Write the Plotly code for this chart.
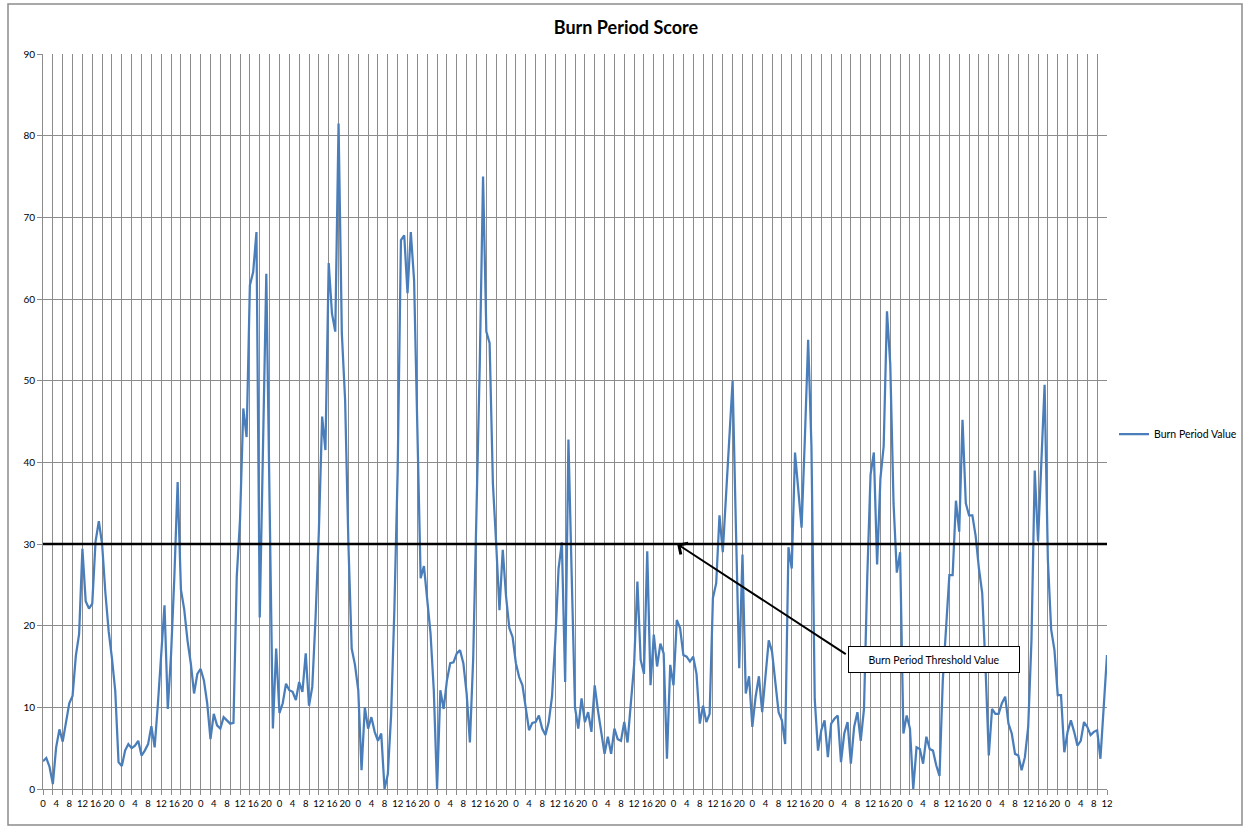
import plotly.graph_objects as go

# ---- data ----
vals_a = [3.4, 3.8, 2.7, 0.6, 5.1, 7.3, 5.8, 8.4, 10.5, 11.4, 16.3, 19.0, 29.4]
vals_b = [23.0, 22.1, 22.7, 30.3, 32.8, 30.0, 24.0, 19.3, 16.0, 12.0, 3.3, 2.8]
vals_c = [4.7, 5.5, 5.0, 5.3, 5.9, 4.1, 4.7, 5.5, 7.7, 5.1, 10.5, 16.5, 22.5, 9.8, 16.5, 26.0]
vals_d = [37.6, 24.4, 22.0, 18.2, 15.4, 11.7, 14.1, 14.7, 13.3, 10.5, 6.1, 9.2, 7.8, 7.4, 8.8, 8.4, 8.0, 8.1]
vals_e = [26.0, 33.0, 46.6, 43.1, 61.7, 63.3, 68.2, 21.0, 42.0, 63.1, 35.0, 7.4]
vals_f = [17.2, 9.3, 10.5, 12.9, 12.1, 11.9, 10.9, 13.1, 11.9, 16.6, 10.2, 12.5, 21.0]
vals_g = [31.5, 45.6, 41.5, 64.4, 58.2, 56.0, 81.5, 55.8, 47.6, 30.0]
vals_h = [17.2, 15.2, 12.1, 2.3, 10.0, 7.4, 8.8, 7.0, 5.9, 6.8, 0.0, 1.8]
vals_i = [9.0, 22.0, 39.0, 67.2, 67.8, 60.7, 68.2, 62.3, 45.0, 25.8, 27.3, 22.7, 19.1, 12.1, 0.0]
vals_j = [12.1, 9.8, 13.3, 15.4, 15.5, 16.6, 17.0, 15.4, 11.7, 5.7, 16.0]
vals_k = [33.0, 52.0, 75.0, 56.0, 54.6, 37.4, 30.0]
vals_l = [21.9, 29.3, 23.6, 19.7, 18.6, 15.4, 13.7, 12.7, 9.6, 7.2, 8.1, 8.2, 9.0, 7.4, 6.6, 8.2, 11.3, 18.2, 27.0]
vals_m = [30.2, 13.1, 42.8, 26.0, 10.0, 7.4, 11.1, 8.2, 9.4, 7.0, 12.7, 9.6, 7.0]
vals_n = [4.3, 6.4, 4.3, 7.4, 6.1, 5.9, 8.2, 5.7, 10.9, 15.2, 25.4, 15.8, 14.1, 29.1, 12.7, 18.9, 15.0, 17.8,
          16.6, 3.7, 15.2, 12.7, 20.7, 19.7, 16.4, 16.2, 15.6, 16.2, 14.1, 8.0, 10.2, 8.2, 9.2, 23.4, 25.2]
vals_o = [33.5, 29.0, 36.0, 43.0, 50.0, 32.0, 14.8, 28.7]
vals_p = [11.7, 13.8, 7.6, 11.3, 13.8, 9.4, 14.0, 18.2, 16.8, 13.0, 9.4, 8.4, 5.5]
vals_q = [29.6, 27.0, 41.2, 36.6, 32.0, 43.0, 55.0, 42.0]
vals_r = [11.0, 4.7, 7.2, 8.4, 3.9, 8.0, 8.6, 9.0, 3.3, 6.8, 8.2, 3.1, 7.6, 9.4, 5.9, 9.8]
vals_s = [26.0, 38.5, 41.2, 27.5, 38.0, 42.0, 58.5, 52.0, 35.0, 26.5, 29.0]
vals_t = [6.8, 9.0, 7.4, 0.0, 5.1, 4.9, 3.1, 6.4, 4.9, 4.7, 2.9, 1.6, 13.3, 19.9, 26.2, 26.2]
vals_u = [35.3, 31.5, 45.2, 35.0, 33.5, 33.5, 31.0, 27.0, 24.0, 15.0, 4.1]
vals_v = [9.8, 9.2, 9.2, 10.5, 11.3, 8.0, 6.8, 4.3, 4.1, 2.3, 3.9, 7.6, 18.2]
vals_w = [39.0, 30.3, 40.0, 49.5, 28.0, 19.5, 17.0, 11.5, 11.5, 4.5, 7.0, 8.4, 7.0, 5.3, 5.9, 8.2, 7.6,
          6.6, 7.0, 7.2, 3.7, 9.8, 16.4]

burn_period_value = (vals_a + vals_b + vals_c + vals_d + vals_e + vals_f + vals_g + vals_h + vals_i + vals_j
                     + vals_k + vals_l + vals_m + vals_n + vals_o + vals_p + vals_q + vals_r + vals_s + vals_t
                     + vals_u + vals_v + vals_w)

threshold_value = 30
label_step = 4      # hour labels every 4 hours
grid_step = 3       # tick marks / gridlines every 3 categories
y_ticks = [0, 10, 20, 30, 40, 50, 60, 70, 80, 90]

n = len(burn_period_value)
idx = list(range(n))
hour_of_day = [i % 24 for i in idx]
label_pos = idx[::label_step]
label_text = [str(hour_of_day[i]) for i in label_pos]
last = n - 1

FONT = "Lato"
GRID = "#8C8C8C"

fig = go.Figure()
fig.add_trace(go.Scatter(
    x=idx, y=burn_period_value, mode="lines", name="Burn Period Value",
    line=dict(color="#4A7EBB", width=2.25),
))
# invisible helper trace for the label axis
fig.add_trace(go.Scatter(
    x=[0, last], y=[0, 0], xaxis="x2", mode="lines", line=dict(width=0),
    opacity=0, showlegend=False, hoverinfo="skip",
))

fig.update_layout(
    width=1247, height=827,
    margin=dict(l=43, r=140, t=54, b=38),
    paper_bgcolor="white", plot_bgcolor="white",
    font=dict(family=FONT, color="#000000"),
    title=dict(text="<b>Burn Period Score</b>", x=0.502, xref="container", xanchor="center",
               y=1 - 28 / 827, yref="container", yanchor="middle",
               font=dict(family=FONT, size=18, color="#000000")),
    xaxis=dict(range=[0, last], tickmode="linear", tick0=0, dtick=grid_step,
               showticklabels=False, showgrid=True, gridcolor=GRID, gridwidth=1,
               ticks="outside", ticklen=5, tickcolor=GRID, tickwidth=1,
               showline=True, linecolor=GRID, linewidth=1, zeroline=False,
               automargin=False),
    xaxis2=dict(overlaying="x", side="bottom", range=[0, last], tickmode="array",
                tickvals=label_pos, ticktext=label_text, tickangle=0,
                showgrid=False, zeroline=False, showline=False,
                ticks="outside", ticklen=6, tickcolor="rgba(0,0,0,0)",
                tickfont=dict(family=FONT, size=9.5, color="#000000"),
                automargin=False),
    yaxis=dict(range=[0, 90], tickmode="array", tickvals=y_ticks,
               showgrid=True, gridcolor=GRID, gridwidth=1,
               ticks="outside", ticklen=5, tickcolor=GRID,
               showline=True, linecolor=GRID, linewidth=1, zeroline=False,
               tickfont=dict(family=FONT, size=10, color="#000000"),
               automargin=False),
    legend=dict(xref="container", yref="container", x=1114 / 1247, xanchor="left",
                y=1 - 434 / 827, yanchor="middle",
                font=dict(family=FONT, size=10.5, color="#000000"),
                bgcolor="rgba(0,0,0,0)", itemwidth=30),
    showlegend=True,
)

# threshold line
fig.add_shape(type="line", xref="x", yref="y", x0=0, x1=last, y0=threshold_value, y1=threshold_value,
              line=dict(color="#000000", width=2.5), layer="above")

# arrow to threshold line
fig.add_annotation(x=193.1, y=threshold_value, ax=244.9, ay=16.4, xref="x", yref="y",
                   axref="x", ayref="y", text="", showarrow=True,
                   arrowhead=4, arrowsize=1.3, arrowwidth=2, arrowcolor="#000000")
# callout box
fig.add_annotation(x=271.4, y=15.9, xref="x", yref="y", text="Burn Period Threshold Value",
                   showarrow=False, bgcolor="white", bordercolor="#000000", borderwidth=1,
                   borderpad=0, width=170, height=25,
                   font=dict(family=FONT, size=10.5, color="#000000"))

# outer chart border
fig.add_shape(type="rect", xref="paper", yref="paper",
              x0=(8 - 43) / 1064, x1=(1242 - 43) / 1064,
              y0=(789 - 825) / 735, y1=(789 - 4) / 735,
              line=dict(color="#8C8C8C", width=1.5), fillcolor="rgba(0,0,0,0)", layer="below")

fig.write_html("out.html", config={"displayModeBar": False},
               post_script="document.body.style.margin='0';document.body.style.overflow='hidden';")
